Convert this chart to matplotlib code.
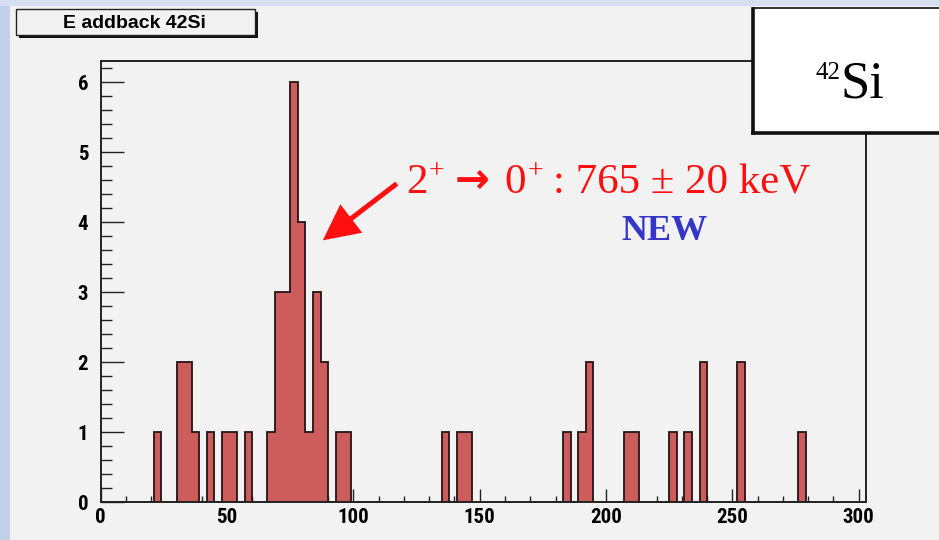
import numpy as np
import matplotlib
matplotlib.use("Agg")
import matplotlib.pyplot as plt
from matplotlib.patches import Rectangle, FancyArrowPatch
from matplotlib.ticker import MultipleLocator

# ---- histogram content: E addback spectrum for 42Si (3-unit bins, 0..303) ----
bin_width = 3
x_max = 303
bin_low = [21, 30, 33, 36, 42, 48, 51, 57, 66, 69, 72, 75, 78, 81, 84, 87, 93, 96,
           135, 141, 144, 183, 189, 192, 207, 210, 225, 231, 237, 252, 276]
counts = [1, 2, 2, 1, 1, 1, 1, 1, 1, 3, 3, 6, 4, 1, 3, 2, 1, 1,
          1, 1, 1, 1, 1, 2, 1, 1, 1, 1, 2, 2, 1]
y_max = 6.3
x_ticks = [0, 50, 100, 150, 200, 250, 300]
y_ticks = [0, 1, 2, 3, 4, 5, 6]

title = "E addback 42Si"
transition = ["2", "+", "→", "0", "+", ": 765 ± 20 keV"]
tag = "NEW"

W, H = 939, 540
fig = plt.figure(figsize=(W / 100, H / 100), dpi=100)
fig.patch.set_facecolor("#f2f2f2")


def px(x, y):
    """pixel position (from top-left) -> figure fraction"""
    return x / W, 1 - y / H


# slide background showing around the canvas
fig.add_artist(Rectangle((0, 0), 10 / W, 1, transform=fig.transFigure,
                         facecolor="#c3d0ea", edgecolor="none", zorder=0))
fig.add_artist(Rectangle((0, 1 - 6 / H), 1, 6 / H, transform=fig.transFigure,
                         facecolor="#d6dff2", edgecolor="none", zorder=0))

# frame
left, right, top, bottom = 100.7, 866.3, 61.0, 502.3
ax = fig.add_axes([left / W, 1 - bottom / H, (right - left) / W, (bottom - top) / H])
ax.set_facecolor("#f2f2f2")

edges = np.arange(0, x_max + bin_width, bin_width)
vals = np.zeros(len(edges) - 1)
vals[np.array(bin_low) // bin_width] = counts

ax.stairs(vals, edges, fill=True, color="#cd5c5c", zorder=2)
ax.stairs(vals, edges, baseline=0, color="#241414", lw=1.3, zorder=3)

ax.set_xlim(0, x_max)
ax.set_ylim(0, y_max)
for s in ax.spines.values():
    s.set_color("#222222")
    s.set_linewidth(1.4)
    s.set_zorder(4)

ax.xaxis.set_major_locator(MultipleLocator(50))
ax.xaxis.set_minor_locator(MultipleLocator(10))
ax.yaxis.set_major_locator(MultipleLocator(1))
ax.yaxis.set_minor_locator(MultipleLocator(0.2))
ax.set_xticks(x_ticks)
ax.set_yticks(y_ticks)
ax.tick_params(axis="x", which="major", direction="in", length=9.1, width=1.0,
               color="#222222", pad=4, top=False)
ax.tick_params(axis="x", which="minor", direction="in", length=4.3, width=1.0,
               color="#222222", top=False)
ax.tick_params(axis="y", which="major", direction="in", length=16.3, width=1.0,
               color="#222222", pad=9, right=False)
ax.tick_params(axis="y", which="minor", direction="in", length=7.9, width=1.0,
               color="#222222", right=False)
lab_font = dict(family=["Liberation Sans Narrow", "Roboto Condensed", "Liberation Sans"],
                weight="bold", size=15)
ax.set_xticklabels([str(v) for v in x_ticks], **lab_font)
ax.set_yticklabels([str(v) for v in y_ticks], **lab_font)

# title pave with shadow
tx0, ty0, tx1, ty1 = 15.7, 9.0, 255.0, 35.0
fig.add_artist(Rectangle(px(tx0 + 3, ty1 + 3), (tx1 - tx0) / W, (ty1 - ty0) / H,
                         transform=fig.transFigure, facecolor="#111111",
                         edgecolor="none", zorder=5))
fig.add_artist(Rectangle(px(tx0, ty1), (tx1 - tx0) / W, (ty1 - ty0) / H,
                         transform=fig.transFigure, facecolor="#f2f2f2",
                         edgecolor="#222222", lw=1.0, zorder=6))
fig.text(*px(134, (ty0 + ty1) / 2 + 1), title, ha="center", va="center",
         family="Liberation Sans", weight="bold", size=14, zorder=7)

# nucleus label box
bx0, by0, bx1, by1 = 753.0, 8.5, 945.0, 133.0
fig.add_artist(Rectangle(px(bx0, by1), (bx1 - bx0) / W, (by1 - by0) / H,
                         transform=fig.transFigure, facecolor="white",
                         edgecolor="#111111", lw=1.2, zorder=8))
fig.add_artist(plt.Line2D([bx0 / W, bx0 / W], [1 - by0 / H, 1 - by1 / H],
                          transform=fig.transFigure, color="#111111", lw=2.6, zorder=9))
fig.add_artist(plt.Line2D([bx0 / W, 1], [1 - by1 / H, 1 - by1 / H],
                          transform=fig.transFigure, color="#111111", lw=2.6, zorder=9))
fig.text(*px(840, 79), "42", ha="right", va="baseline", family="Liberation Serif",
         size=18, zorder=10)
fig.text(*px(840, 97), "Si", ha="left", va="baseline", family="Liberation Serif",
         size=38, zorder=10)

# transition label, laid out piece by piece
red = "#ff1010"
base = 193.0
serif_big = dict(family="Liberation Serif", size=31)
serif_sup = dict(family="Liberation Serif", size=20)
pieces = [
    (transition[0], serif_big, 406.0, 0),
    (transition[1], serif_sup, 428.5, 15),
    (transition[2], dict(family="DejaVu Sans", weight="bold", size=30), 455.0, 0),
    (transition[3], serif_big, 504.0, 0),
    (transition[4], serif_sup, 528.0, 15),
    (transition[5], serif_big, 553.0, 0),
]
for s, kw, x, rise in pieces:
    fig.text(*px(x, base - rise), s, ha="left", va="baseline",
             color=red, zorder=10, **kw)

fig.text(*px(665, 240), tag, ha="center", va="baseline", family="Liberation Serif",
         weight="bold", size=26, color="#3535c8", zorder=10)

# arrow pointing at the 2+ -> 0+ peak
arrow = FancyArrowPatch((117.2, 4.55), (87.9, 3.74), transform=ax.transData,
                        arrowstyle="-|>,head_length=20,head_width=10",
                        mutation_scale=1, lw=3.6, color=red, joinstyle="miter",
                        capstyle="butt", shrinkA=0, shrinkB=0, zorder=10,
                        clip_on=False)
ax.add_artist(arrow)

fig.savefig("out.png", dpi=100, facecolor=fig.get_facecolor())
